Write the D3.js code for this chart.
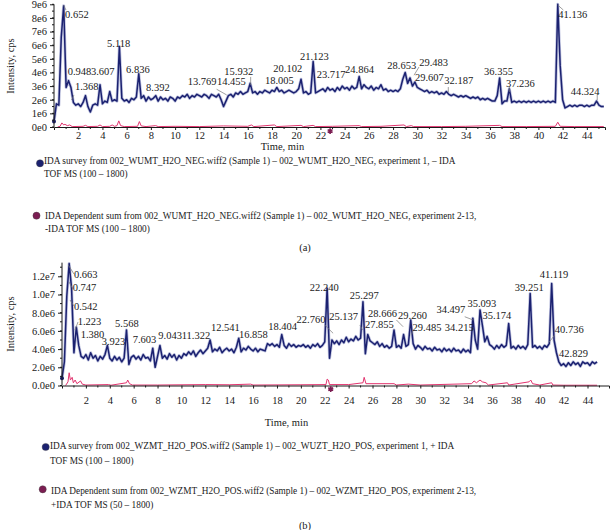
<!DOCTYPE html>
<html><head><meta charset="utf-8">
<script src="https://cdn.jsdelivr.net/npm/d3@7"></script>
<style>
html,body{margin:0;padding:0;background:#fff;}
svg{display:block;}
svg text{font-family:"Liberation Serif","DejaVu Serif",serif;}
</style></head>
<body><svg id="c" width="611" height="530" font-family="Liberation Serif"></svg>
<script>
// ---------- DATA (intensities in units of 1e6 cps) ----------
const stepMin = 0.2; // sampling step of the survey traces, minutes

// (a) IDA survey, negative mode, samples at t = 0, 0.2, 0.4, ...
const surveyA = [
 0.4,1.7,1.6,6.6,8.9,2.9,3.4,2.9,1.8,1.6,
 1.7,1.5,1.8,2.3,1.5,1.1,1.6,1.7,1.6,3.1,
 1.7,1.9,1.8,2.6,1.9,2.0,1.9,5.9,2.1,1.9,
 2.0,1.8,2.1,2.0,2.2,3.9,2.1,2.3,1.9,2.2,
 2.0,2.1,2.3,1.9,2.2,2.0,2.1,1.9,2.2,2.1,
 1.9,2.2,2.1,2.3,2.2,2.4,2.1,2.3,2.2,2.4,
 2.3,2.2,2.4,2.3,2.1,2.4,2.3,2.2,2.4,2.0,
 1.5,1.9,2.3,2.4,2.2,2.5,2.4,2.6,2.4,2.5,
 2.6,3.2,2.5,2.6,2.4,2.6,2.5,2.7,2.6,2.5,
 2.7,2.6,2.9,2.6,2.7,2.5,2.6,2.7,2.6,2.5,
 2.6,2.8,3.5,2.5,2.6,2.4,2.5,4.8,2.5,2.6,
 2.7,2.8,2.6,2.9,2.7,2.8,2.6,2.9,2.7,3.0,
 2.8,2.9,2.7,3.0,2.8,2.9,3.7,2.8,3.1,2.9,
 2.8,3.0,2.7,2.9,2.8,3.1,2.7,2.8,2.6,2.7,
 2.6,2.7,2.6,2.8,3.5,4.0,3.2,3.6,3.0,3.3,
 2.9,2.8,2.7,2.6,2.7,2.5,2.6,2.5,2.6,2.4,
 2.5,2.4,2.6,2.4,2.3,2.4,2.3,2.2,2.3,2.2,
 2.3,2.2,2.1,2.2,2.1,2.2,2.0,2.1,2.0,2.1,
 2.0,1.9,1.9,2.3,3.6,1.7,1.9,1.9,2.8,1.8,
 1.9,1.8,1.9,1.8,1.9,1.8,1.9,1.8,1.9,1.8,
 1.9,1.8,1.9,1.8,1.9,1.8,1.9,1.8,9.0,4.5,
 2.0,1.4,1.5,1.6,1.5,1.6,1.5,1.6,1.6,1.5,
 1.6,1.5,1.6,1.6,1.9,1.6,1.5,1.5
];
// (a) IDA dependent sum [time, intensity]
const dependentA = [
 [0.3,0],[0.5,0.05],[0.65,0.3],[0.8,0.15],[0.9,0.2],[1.1,0.1],[1.3,0.15],[1.5,0.03],[2.4,0.05],[2.6,0.12],
 [2.8,0.03],[3.6,0.05],[3.8,0.15],[4.0,0.03],[4.6,0.05],[4.8,0.15],[5.0,0.05],[5.2,0.1],[5.35,0.45],[5.5,0.1],
 [5.8,0.03],[6.9,0.05],[7.05,0.4],[7.2,0.08],[7.6,0.03],[8.4,0.1],[8.6,0.03],[10,0.05],[12,0.03],[14,0.08],
 [16,0.05],[16.3,0.15],[16.5,0.03],[18.2,0.15],[18.4,0.03],[20.4,0.12],[20.6,0.03],[21.4,0.12],[21.6,0.03],[23,0.05],
 [25.2,0.1],[25.4,0.03],[27,0.05],[28.9,0.15],[29.1,0.03],[29.5,0.1],[29.7,0.03],[32,0.03],[34,0.05],[36.8,0.12],
 [37,0.03],[39,0.03],[41.4,0.05],[41.6,0.35],[41.8,0.05],[43,0.03],[45.4,0.03]
];
const peakLabelsA = ["0.652","0.948","3.607","1.368","5.118","6.836","8.392","13.769","14.455","15.932","18.005","20.102",
 "21.123","23.717","24.864","28.653","29.483","29.607","32.187","36.355","37.236","41.136","44.324"];

// (b) IDA survey, positive mode, samples at t = 0, 0.2, 0.4, ...
const surveyB = [
 0.8,2.6,9.8,13.4,10.7,3.6,6.4,4.4,3.2,3.0,
 3.4,2.8,3.6,3.0,3.3,2.7,3.2,2.9,3.4,4.4,
 3.0,2.7,3.2,2.8,3.1,2.6,3.0,6.1,2.3,3.1,
 3.3,2.9,3.2,2.8,3.4,3.0,3.1,2.7,4.1,2.0,
 3.2,4.4,3.0,3.3,2.9,3.5,3.1,3.4,2.8,3.3,
 3.0,3.5,3.3,3.7,3.4,3.8,3.2,3.6,3.9,3.5,
 3.8,4.1,5.0,3.7,4.0,3.8,4.2,3.6,3.9,4.1,
 3.8,4.0,3.6,4.2,5.2,3.7,4.1,3.9,4.3,4.0,
 3.8,4.1,3.7,4.0,3.9,3.8,4.6,4.4,4.6,4.3,
 4.5,4.2,5.6,4.4,4.1,4.6,4.3,4.5,4.2,4.4,
 4.3,4.5,4.2,4.4,4.1,4.5,4.3,4.6,4.2,4.4,
 4.8,10.7,3.0,5.0,4.6,4.9,4.5,5.0,4.7,5.3,
 4.8,5.1,4.9,5.4,5.0,5.2,9.2,3.5,5.6,4.9,
 4.7,4.5,4.8,4.3,4.6,4.2,4.4,4.1,4.3,6.1,
 4.2,4.4,4.1,5.6,4.3,4.5,7.2,4.6,4.0,4.4,
 4.2,3.9,4.3,4.0,4.1,3.8,4.2,3.9,4.0,3.7,
 4.1,3.8,4.0,3.7,4.1,3.8,3.9,3.6,4.0,3.7,
 3.9,3.6,7.4,5.0,4.0,8.3,6.6,4.8,5.4,4.5,
 4.3,4.0,4.4,4.1,4.5,4.2,4.4,6.8,4.1,4.3,
 4.0,4.4,4.1,4.3,4.0,4.5,10.1,4.2,4.4,4.1,
 4.3,4.0,4.4,4.2,4.6,11.2,5.0,3.6,2.6,2.2,
 2.4,2.1,2.5,2.2,2.6,2.3,2.5,2.1,2.6,2.4,
 2.5,2.2,2.6,2.4,2.6
];
const dependentB = [
 [0.3,0],[0.5,0.4],[0.6,1.4],[0.7,0.6],[0.85,0.9],[0.95,0.3],[1.1,0.6],[1.25,0.2],[1.55,0.5],[1.7,0.15],
 [2,0.05],[3.9,0.1],[4.1,0.03],[5.4,0.3],[5.5,0.6],[5.65,0.2],[5.9,0.05],[8,0.05],[12,0.1],[14,0.08],
 [15.8,0.15],[16,0.05],[20,0.08],[22.1,0.1],[22.2,0.7],[22.3,0.6],[22.4,0.1],[24,0.1],[25.2,0.3],[25.3,0.9],
 [25.45,0.2],[27.8,0.2],[28,0.05],[29,0.15],[30,0.05],[34.3,0.2],[34.5,0.5],[34.7,0.3],[35,0.6],[35.2,0.4],
 [35.5,0.3],[35.7,0.05],[37.3,0.3],[37.4,0.05],[39.1,0.4],[39.25,0.6],[39.4,0.2],[40,0.05],[41.0,0.3],[41.1,0.05],
 [42,0.03],[44.8,0.03]
];
const peakLabelsB = ["0.663","0.747","0.542","1.223","1.380","3.923","5.568","7.603","9.043","11.322","12.541","16.858",
 "18.404","22.240","22.760","25.137","25.297","27.855","28.666","29.260","29.485","34.215","34.497","35.093","35.174",
 "39.251","41.119","40.736","42.829"];

const xTicks = [2,4,6,8,10,12,14,16,18,20,22,24,26,28,30,32,34,36,38,40,42,44];
const yTicksA = [0,1,2,3,4,5,6,7,8,9];
const yTicksB = [0,2,4,6,8,10,12];
const xTitle = "Time, min";
const yTitle = "Intensity, cps";
const legendA = [
 ["IDA survey from 002_WUMT_H2O_NEG.wiff2 (Sample 1) – 002_WUMT_H2O_NEG, experiment 1, – IDA","TOF MS (100 – 1800)"],
 ["IDA Dependent sum from 002_WUMT_H2O_NEG.wiff2 (Sample 1) – 002_WUMT_H2O_NEG, experiment 2-13,","-IDA TOF MS (100 – 1800)"]
];
const legendB = [
 ["IDA survey from 002_WZMT_H2O_POS.wiff2 (Sample 1) – 002_WUZT_H2O_POS, experiment 1, + IDA","TOF MS (100 – 1800)"],
 ["IDA Dependent sum from 002_WZMT_H2O_POS.wiff2 (Sample 1) – 002_WZMT_H2O_POS, experiment 2-13,","+IDA TOF MS (50 – 1800)"]
];
const panelTags = ["(a)","(b)"];

// ---------- LAYOUT (label anchor positions in data units [t, v]) ----------
const labelPosA = [[0.91,8.03],[1.13,3.80],[3.05,3.78],[1.73,2.75],[4.38,5.88],[5.95,3.93],[7.60,2.66],[11.04,3.07],
 [13.46,3.07],[14.06,3.85],[17.42,3.12],[18.11,4.0],[20.31,4.9],[21.69,3.56],[24.03,3.98],[27.52,4.29],[30.16,4.49],
 [29.81,3.34],[32.23,3.14],[35.51,3.80],[37.32,2.95],[41.64,8.03],[42.67,2.38]];
const leadersA = [[0.78,8.95,0.99,8.58],[13.43,2.77,14.26,2.35],[16.24,3.67,16.24,3.08],[32.56,2.93,32.56,2.57],
 [37.6,2.93,37.6,2.57],[41.59,8.95,42.06,8.58],[44.86,2.42,44.86,1.98],[1.65,2.35,1.45,1.98],[30.14,4.4,29.73,3.8]];
const labelPosB = [[1.0,11.76],[0.89,10.36],[1.0,8.27],[1.31,6.63],[1.56,5.24],[3.32,4.5],[4.44,6.45],[5.92,4.62],
 [8.06,5.16],[10.02,5.16],[12.47,5.97],[14.81,5.24],[17.26,6.08],[20.75,10.4],[19.64,6.92],[22.37,7.18],[24.1,9.48],
 [25.36,6.3],[25.63,7.55],[28.14,7.36],[29.35,5.97],[32.05,5.97],[31.35,8.02],[33.95,8.65],[35.2,7.36],[37.91,10.4],
 [40.0,11.84],[41.26,5.82],[41.62,3.15]];
const leadersB = [[0.53,13.24,1.0,12.25],[0.59,11.37,0.92,10.6],[0.67,9.4,1.0,8.74],[1.09,6.1,1.34,6.98],
 [22.0,6.65,22.7,5.74],[24.94,6.65,25.16,6.1],[28.0,7.2,28.56,6.46],[33.72,7.56,34.42,7.2],[41.26,5.55,40.78,4.75],
 [29.4,6.1,29.26,5.55]];

const navy = "#1b2170", navyLight = "#7f88bf", pink = "#e2346f", maroon = "#7b1d52", ink = "#1a1a1a";
const FONT = "Liberation Serif";

const svg = d3.select("#c");
svg.append("rect").attr("width",611).attr("height",530).attr("fill","#fff");

function panel(o){
  const g = svg.append("g").attr("font-family",FONT);
  const x = d3.scaleLinear().domain(o.xDomain).range(o.xRange);
  const y = d3.scaleLinear().domain(o.yDomain).range(o.yRange);
  const surveyPts = o.survey.map((v,i)=>[i*stepMin, v]);
  const line = d3.line().x(d=>x(d[0])).y(d=>y(d[1]));
  g.append("path").datum(surveyPts).attr("d",line).attr("fill","none")
    .attr("stroke",navyLight).attr("stroke-width",3).attr("stroke-linejoin","round").attr("opacity",0.5);
  g.append("path").datum(surveyPts).attr("d",line).attr("fill","none")
    .attr("stroke",navy).attr("stroke-width",1.5).attr("stroke-linejoin","round");
  g.append("circle").attr("cx",x(surveyPts[0][0])).attr("cy",y(surveyPts[0][1])).attr("r",2).attr("fill",navy);
  g.append("path").datum(o.dependent).attr("d",line).attr("fill","none")
    .attr("stroke",pink).attr("stroke-width",1);
  // axes
  const yMinor = d3.range(o.yDomain[0], o.yMax+1e-9, o.yMinorStep);
  const yAxis = d3.axisLeft(y).tickValues(o.yTicks).tickFormat(o.yFmt).tickSize(4).tickPadding(3);
  const ya = g.append("g").attr("transform",`translate(${o.xRange[0]},0)`).call(yAxis);
  ya.select(".domain").attr("d",`M0,${y(0)}V${y(o.yMax)}`);
  g.append("g").selectAll("line").data(yMinor).join("line")
    .attr("x1",o.xRange[0]-2).attr("x2",o.xRange[0]).attr("y1",d=>y(d)).attr("y2",d=>y(d)).attr("stroke",ink);
  const xAxis = d3.axisBottom(x).tickValues(xTicks).tickSize(3).tickPadding(o.xPad);
  const xa = g.append("g").attr("transform",`translate(0,${y(0)})`).call(xAxis);
  g.append("g").selectAll("line").data(d3.range(1,46,2)).join("line")
    .attr("x1",d=>x(d)).attr("x2",d=>x(d)).attr("y1",y(0)).attr("y2",y(0)+2).attr("stroke",ink);
  [ya,xa].forEach(a=>{
    a.attr("font-family",FONT);
    a.selectAll("text").attr("font-family",FONT).attr("font-size",10.5).attr("fill",ink);
    a.selectAll("line,path").attr("stroke",ink);
  });
  g.append("path").attr("d",d3.symbol(d3.symbolAsterisk,22)())
    .attr("transform",`translate(${x(o.star[0])},${y(o.star[1])})`).attr("stroke",maroon).attr("stroke-width",1.6).attr("fill","none");
  g.append("text").attr("x",(o.xRange[0]+o.xRange[1])/2 + o.xTitleDx).attr("y",o.xTitleY).attr("text-anchor","middle")
    .attr("font-family",FONT).attr("font-size",10.5).attr("fill",ink).text(xTitle);
  g.append("text").attr("transform",`translate(${o.yTitleX},${o.yTitleY}) rotate(-90)`).attr("text-anchor","middle")
    .attr("font-family",FONT).attr("font-size",10.5).attr("fill",ink).text(yTitle);
  g.append("g").selectAll("line").data(o.leaders).join("line")
    .attr("x1",d=>x(d[0])).attr("y1",d=>y(d[1])).attr("x2",d=>x(d[2])).attr("y2",d=>y(d[3]))
    .attr("stroke","#777").attr("stroke-width",0.7);
  g.append("g").selectAll("text").data(o.labels).join("text")
    .attr("x",(d,i)=>x(o.labelPos[i][0])).attr("y",(d,i)=>y(o.labelPos[i][1]))
    .attr("font-family",FONT).attr("font-size",10.5).attr("fill",ink).text(d=>d);
  o.legend.forEach((lines,k)=>{
    const L = o.legendPos[k];
    g.append("circle").attr("cx",L.cx).attr("cy",L.cy).attr("r",3.6)
      .attr("fill",k===0?navy:maroon).attr("stroke","#444").attr("stroke-width",0.4);
    lines.forEach((s,j)=>g.append("text").attr("x",L.tx).attr("y",L.ty+j*L.dy)
      .attr("font-family",FONT).attr("font-size",9.3).attr("fill",ink).text(s));
  });
  g.append("text").attr("x",305).attr("y",o.tagY).attr("text-anchor","middle")
    .attr("font-family",FONT).attr("font-size",10.5).attr("fill",ink).text(o.tag);
}

panel({
  survey:surveyA, dependent:dependentA, labels:peakLabelsA, labelPos:labelPosA, leaders:leadersA,
  xDomain:[0,45.5], xRange:[54,605], yDomain:[0,9], yMax:9, yRange:[127,4.3],
  yTicks:yTicksA, yMinorStep:0.5, yFmt:d=>d===0?"0e0":d+"e6", xPad:2,
  star:[22.8,-0.3], xTitleDx:-47, xTitleY:150, yTitleX:14, yTitleY:66,
  legend:legendA, legendPos:[{cx:40,cy:163.3,tx:44,ty:164,dy:13},{cx:36.5,cy:215.7,tx:45,ty:218.5,dy:13.5}],
  tag:panelTags[0], tagY:250.5
});
panel({
  survey:surveyB, dependent:dependentB, labels:peakLabelsB, labelPos:labelPosB, leaders:leadersB,
  xDomain:[0,45.8], xRange:[62,609], yDomain:[0,13.5], yMax:13.5, yRange:[385.5,262.65],
  yTicks:yTicksB, yMinorStep:1, yFmt:d=>d===0?"0.0e0":(d>=10?(d/10).toFixed(1)+"e7":d.toFixed(1)+"e6"), xPad:8,
  star:[22.5,-0.4], xTitleDx:-49, xTitleY:425.5, yTitleX:14, yTitleY:324,
  legend:legendB, legendPos:[{cx:45.7,cy:447,tx:50,ty:448.5,dy:15},{cx:42.7,cy:489.3,tx:51,ty:493.5,dy:14.5}],
  tag:panelTags[1], tagY:529
});
</script>
</body></html>
